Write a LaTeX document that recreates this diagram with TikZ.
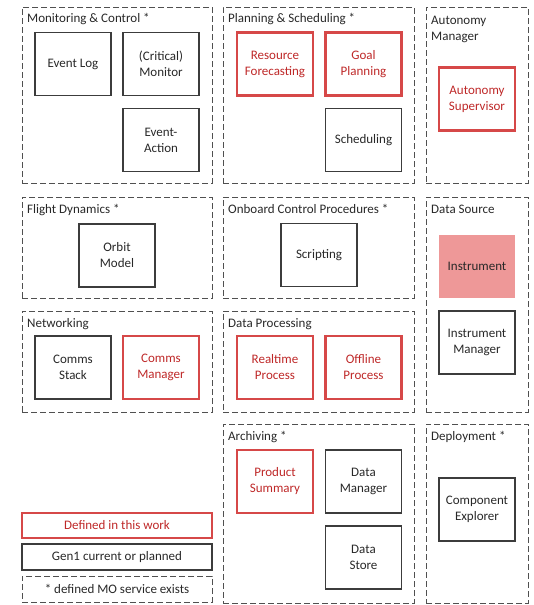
\documentclass[tikz,border=0pt]{standalone}
\usepackage{fontspec}
\setmainfont{Carlito}
\definecolor{redline}{RGB}{214,72,72}
\definecolor{redtext}{RGB}{190,40,40}
\definecolor{pinkfill}{RGB}{238,152,152}
\definecolor{darkline}{RGB}{60,60,60}
\definecolor{dashline}{RGB}{80,80,80}
\definecolor{txt}{RGB}{40,40,40}
\tikzset{
  grp/.style={draw=dashline, line width=0.9pt, dash pattern=on 6pt off 3pt, inner sep=0pt},
  gtitle/.style={anchor=base west, inner sep=0pt, text=txt, font=\fontsize{13}{16}\selectfont, align=left},
  blk/.style={draw=darkline, line width=1.2pt, minimum width=76pt, minimum height=63pt, inner sep=0pt, align=center, text=txt, font=\fontsize{13}{16}\selectfont},
  redb/.style={draw=redline, line width=2.2pt, minimum width=76pt, minimum height=63pt, inner sep=0pt, align=center, text=redtext, font=\fontsize{13}{16}\selectfont},
  fillb/.style={fill=pinkfill, minimum width=76pt, minimum height=63pt, inner sep=0pt, align=center, text=txt, font=\fontsize{13}{16}\selectfont},
  leg/.style={minimum width=190pt, inner sep=0pt, align=center, font=\fontsize{13}{16}\selectfont},
}
\begin{document}
\begin{tikzpicture}[x=1pt,y=-1pt]
\useasboundingbox (0,0) rectangle (533,605);
% groups
\node[grp, minimum width=190pt, minimum height=176pt] (mc) at (117,95) {};
\node[grp, minimum width=191pt, minimum height=176pt] (ps) at (318.5,95) {};
\node[grp, minimum width=102pt, minimum height=176pt] (am) at (477,95) {};
\node[grp, minimum width=190pt, minimum height=101pt] (fd) at (117,247.5) {};
\node[grp, minimum width=191pt, minimum height=101pt] (ocp) at (318.5,247.5) {};
\node[grp, minimum width=102pt, minimum height=215pt] (ds) at (477,304.5) {};
\node[grp, minimum width=190pt, minimum height=101pt] (net) at (117,361.5) {};
\node[grp, minimum width=191pt, minimum height=101pt] (dp) at (318.5,361.5) {};
\node[grp, minimum width=191pt, minimum height=179pt] (arc) at (318.5,513.5) {};
\node[grp, minimum width=102pt, minimum height=179pt] (dep) at (477,513.5) {};
% titles
\node[gtitle] (tmc) at (27,23) {Monitoring \& Control *};
\node[gtitle] (tps) at (228,23) {Planning \& Scheduling *};
\node[gtitle] (tam1) at (431,24) {Autonomy};
\node[gtitle] (tam2) at (431,40) {Manager};
\node[gtitle] (tfd) at (27,213) {Flight Dynamics *};
\node[gtitle] (tocp) at (228,213) {Onboard Control Procedures *};
\node[gtitle] (tds) at (431,213) {Data Source};
\node[gtitle] (tnet) at (27,327) {Networking};
\node[gtitle] (tdp) at (228,327) {Data Processing};
\node[gtitle] (tarc) at (228,440) {Archiving *};
\node[gtitle] (tdep) at (431,440) {Deployment *};
% boxes
\node[blk] (evlog) at (73,64) {Event Log};
\node[blk] (mon) at (161,64) {(Critical)\\Monitor};
\node[blk] (evact) at (161,140) {Event-\\Action};
\node[redb] (resf) at (275,64) {Resource\\Forecasting};
\node[redb] (goal) at (363.5,64) {Goal\\Planning};
\node[blk] (sched) at (363.5,140) {Scheduling};
\node[redb] (asup) at (477,99) {Autonomy\\Supervisor};
\node[blk] (orbit) at (117,255.5) {Orbit\\Model};
\node[blk] (script) at (319,255) {Scripting};
\node[fillb] (instr) at (477,266.5) {Instrument};
\node[blk] (instmgr) at (477,342.5) {Instrument\\Manager};
\node[blk] (cstack) at (73,367.5) {Comms\\Stack};
\node[redb] (cmgr) at (161,367.5) {Comms\\Manager};
\node[redb] (rt) at (275,367.5) {Realtime\\Process};
\node[redb] (off) at (363.5,367.5) {Offline\\Process};
\node[redb] (prod) at (275,481.5) {Product\\Summary};
\node[blk] (dmgr) at (363.5,481.5) {Data\\Manager};
\node[blk] (dstore) at (363.5,557.5) {Data\\Store};
\node[blk] (cexp) at (477,509.5) {Component\\Explorer};
% legend
\node[leg, draw=redline, line width=2.2pt, minimum height=25pt, text=redtext] (l1) at (117,525.5) {Defined in this work};
\node[leg, draw=darkline, line width=1.2pt, minimum height=26pt, text=txt] (l2) at (117,557) {Gen1 current or planned};
\node[leg, draw=dashline, line width=0.9pt, dash pattern=on 6pt off 3pt, minimum height=26pt, text=txt] (l3) at (117,589) {* defined MO service exists};
\end{tikzpicture}
\end{document}
